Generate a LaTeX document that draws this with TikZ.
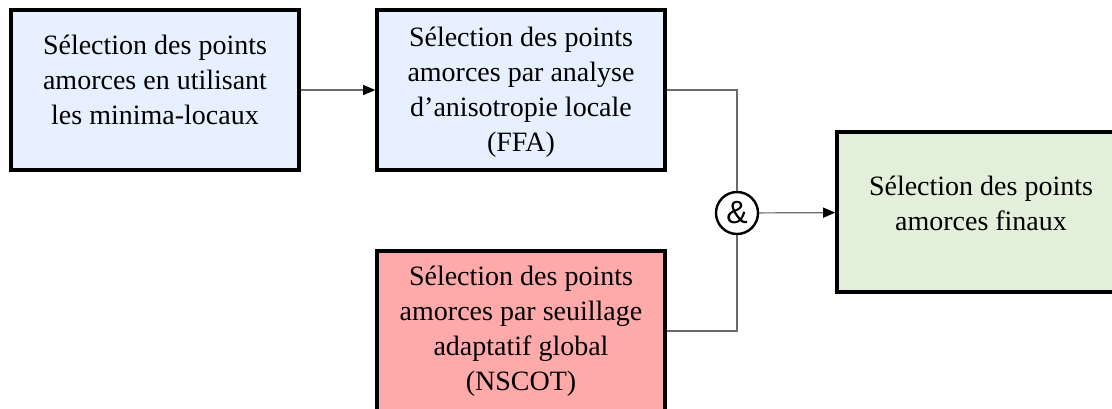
\documentclass[tikz,border=0pt]{standalone}
\usepackage{fontspec}
\setmainfont{Liberation Serif}
\newfontfamily\ampfont{Liberation Sans}
\usetikzlibrary{arrows.meta}

\begin{document}
\begin{tikzpicture}[x=0.5pt,y=-0.5pt,
  >={Triangle[length=6pt,width=5pt,color=black]},
  font=\fontsize{14}{17.5}\selectfont]
\definecolor{seedblue}{RGB}{230,240,255}
\definecolor{seedred}{RGB}{255,170,170}
\definecolor{seedgreen}{RGB}{226,239,218}
\definecolor{wirecolor}{RGB}{105,105,105}

\tikzset{
  stage/.style={draw=black,line width=1.8pt,minimum width=144pt,
    minimum height=80pt,inner sep=0pt},
  caption/.style={align=center,inner sep=0pt},
  wire/.style={draw=wirecolor,line width=0.6pt},
}

\useasboundingbox (0,0) rectangle (1112,408);
\clip (0,0) rectangle (1112,408);

% first selection: local minima
\node[stage,fill=seedblue] (minloc) at (155,90) {};
\node[caption] (minloctxt) at (155,80)
  {Sélection des points\\amorces en utilisant\\les minima-locaux};

% second selection: local anisotropy (FFA)
\node[stage,fill=seedblue] (ffa) at (521,90) {};
\node[caption] (ffatxt) at (521,92)
  {Sélection des points\\amorces par analyse\\d’anisotropie locale\\(FFA)};

% global adaptive threshold (NSCOT)
\node[stage,fill=seedred] (nscot) at (521,331) {};
\node[caption] (nscottxt) at (521,331)
  {Sélection des points\\amorces par seuillage\\adaptatif global\\(NSCOT)};

% combination and final seeds
\node[circle,draw,line width=1.2pt,minimum size=21pt,inner sep=0pt,
  font=\ampfont\fontsize{16}{16}\selectfont] (amp) at (737,213) {\&};
\node[stage,fill=seedgreen] (final) at (981,212) {};
\node[caption] (finaltxt) at (981,203)
  {Sélection des points\\amorces finaux};

\draw[wire,->] (minloc) -- (ffa);
\draw[wire] (ffa.east) -| (amp.north);
\draw[wire] (nscot.east) -| (amp.south);
\draw[wire,->] (amp) -- (final);
\end{tikzpicture}
\end{document}
